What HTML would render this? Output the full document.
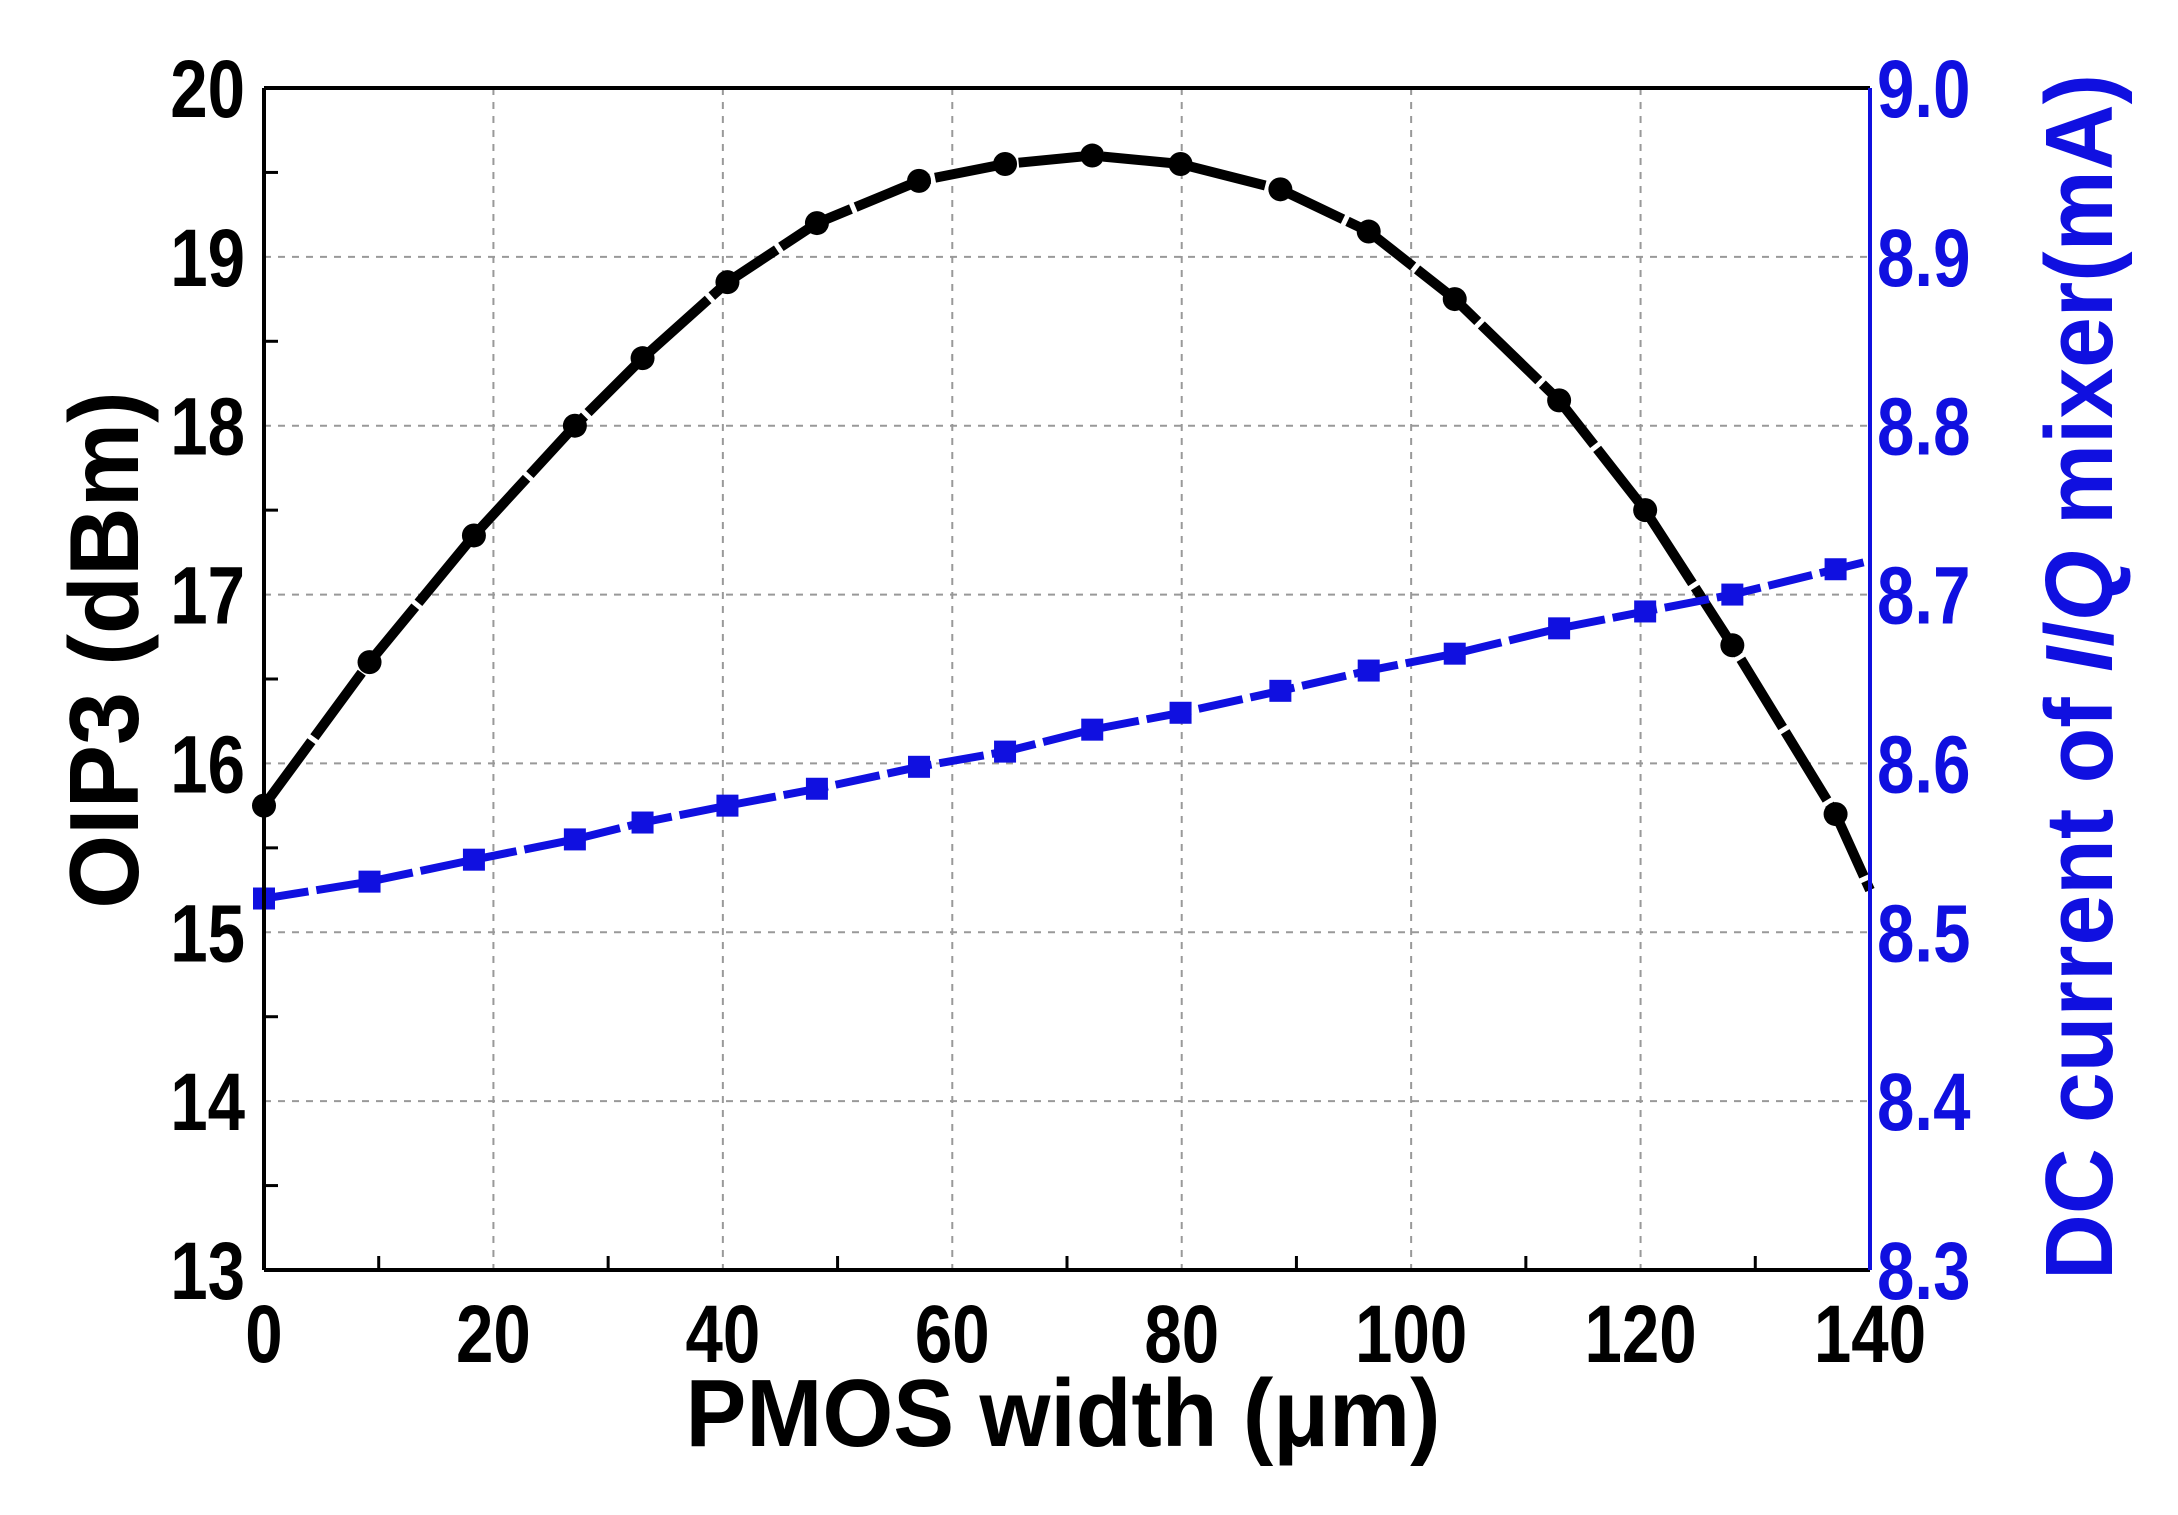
<!DOCTYPE html>
<html><head><style>body{margin:0;background:#fff}</style></head><body>
<svg width="2178" height="1510" xmlns="http://www.w3.org/2000/svg" font-family="Liberation Sans, Arial, sans-serif" font-weight="bold">
<rect width="2178" height="1510" fill="#fff"/>
<g id="grid" stroke="#999" stroke-width="2" stroke-dasharray="7,7" fill="none"></g>
<g id="plot"></g>
<g id="labels"></g>
<script>
const L=264,R=1870,T=88,B=1270;
const X=v=>L+(v/140)*(R-L), Y=v=>B-(v-13)/7*(B-T);
const ns="http://www.w3.org/2000/svg";
function el(p,t,a,txt){const e=document.createElementNS(ns,t);for(const k in a)e.setAttribute(k,a[k]);if(txt!==undefined)e.textContent=txt;(typeof p==='string'?document.getElementById(p):p).appendChild(e);return e;}
for(let v=20;v<140;v+=20)el('grid','line',{x1:X(v),x2:X(v),y1:T,y2:B});
for(let v=14;v<20;v++)el('grid','line',{x1:L,x2:R,y1:Y(v),y2:Y(v)});
for(let v=10;v<140;v+=10)el('plot','line',{x1:X(v),x2:X(v),y1:B,y2:B-(v%20?14:0),stroke:'#000','stroke-width':3});
for(let v=13.5;v<20;v+=1)el('plot','line',{x1:L,x2:L+14,y1:Y(v),y2:Y(v),stroke:'#000','stroke-width':3});
const xs=[0,9.2,18.3,27.1,33,40.4,48.2,57.1,64.6,72.2,79.9,88.6,96.3,103.8,112.9,120.4,128,137];
const kb=[15.75,16.6,17.35,18.0,18.4,18.85,19.2,19.45,19.55,19.6,19.55,19.4,19.15,18.75,18.15,17.5,16.7,15.7];
const bl=[15.2,15.3,15.43,15.55,15.65,15.75,15.85,15.98,16.07,16.2,16.3,16.43,16.55,16.65,16.8,16.9,17.0,17.15];
let pk=xs.map((x,i)=>X(x)+','+Y(kb[i])).join(' ')+' '+X(140)+','+Y(15.25);
let pb=xs.map((x,i)=>X(x)+','+Y(bl[i])).join(' ')+' '+X(140)+','+Y(17.2);
el('plot','polyline',{points:pk,fill:'none',stroke:'#000','stroke-width':10,'stroke-dasharray':'80,5'});
el('plot','polyline',{points:pb,fill:'none',stroke:'#1010e0','stroke-width':8,'stroke-dasharray':'45,8'});
xs.forEach((x,i)=>{el('plot','circle',{cx:X(x),cy:Y(kb[i]),r:12,fill:'#000'});
el('plot','rect',{x:X(x)-11,y:Y(bl[i])-11,width:22,height:22,fill:'#1010e0'});});
el('plot','line',{x1:L,x2:R,y1:T,y2:T,stroke:'#000','stroke-width':4});
el('plot','line',{x1:L,x2:R,y1:B,y2:B,stroke:'#000','stroke-width':4});
el('plot','line',{x1:L,x2:L,y1:T,y2:B,stroke:'#000','stroke-width':4});
el('plot','line',{x1:R,x2:R,y1:T,y2:B,stroke:'#1010e0','stroke-width':4});
const tf=(x,y)=>`translate(${x},${y}) scale(0.82,1)`;
for(let v=13;v<=20;v++)el('labels','text',{x:0,y:0,'text-anchor':'end','font-size':82,transform:tf(245,Y(v)+29)},v);
for(let i=0;i<=7;i++)el('labels','text',{x:0,y:0,'font-size':82,fill:'#1010e0',transform:tf(1877,Y(13+i)+29)},(8.3+i*0.1).toFixed(1));
for(let v=0;v<=140;v+=20)el('labels','text',{x:0,y:0,'text-anchor':'middle','font-size':82,transform:tf(X(v),1362)},v);
el('labels','text',{x:0,y:0,'text-anchor':'middle','font-size':96,transform:'translate(1063,1446) scale(0.95,1)'},'PMOS width (\u03bcm)');
el('labels','text',{x:0,y:0,'text-anchor':'middle','font-size':98,transform:'translate(138,650) rotate(-90) scale(0.97,1)'},'OIP3 (dBm)');
const t=el('labels','text',{x:0,y:0,'text-anchor':'middle','font-size':96,fill:'#1010e0',transform:'translate(2112,677) rotate(-90) scale(0.95,1)'});
el(t,'tspan',{},'DC current of ');el(t,'tspan',{'font-style':'italic'},'I');el(t,'tspan',{},'/');el(t,'tspan',{'font-style':'italic'},'Q');el(t,'tspan',{},' mixer(mA)');
</script>
</svg>
</body></html>
